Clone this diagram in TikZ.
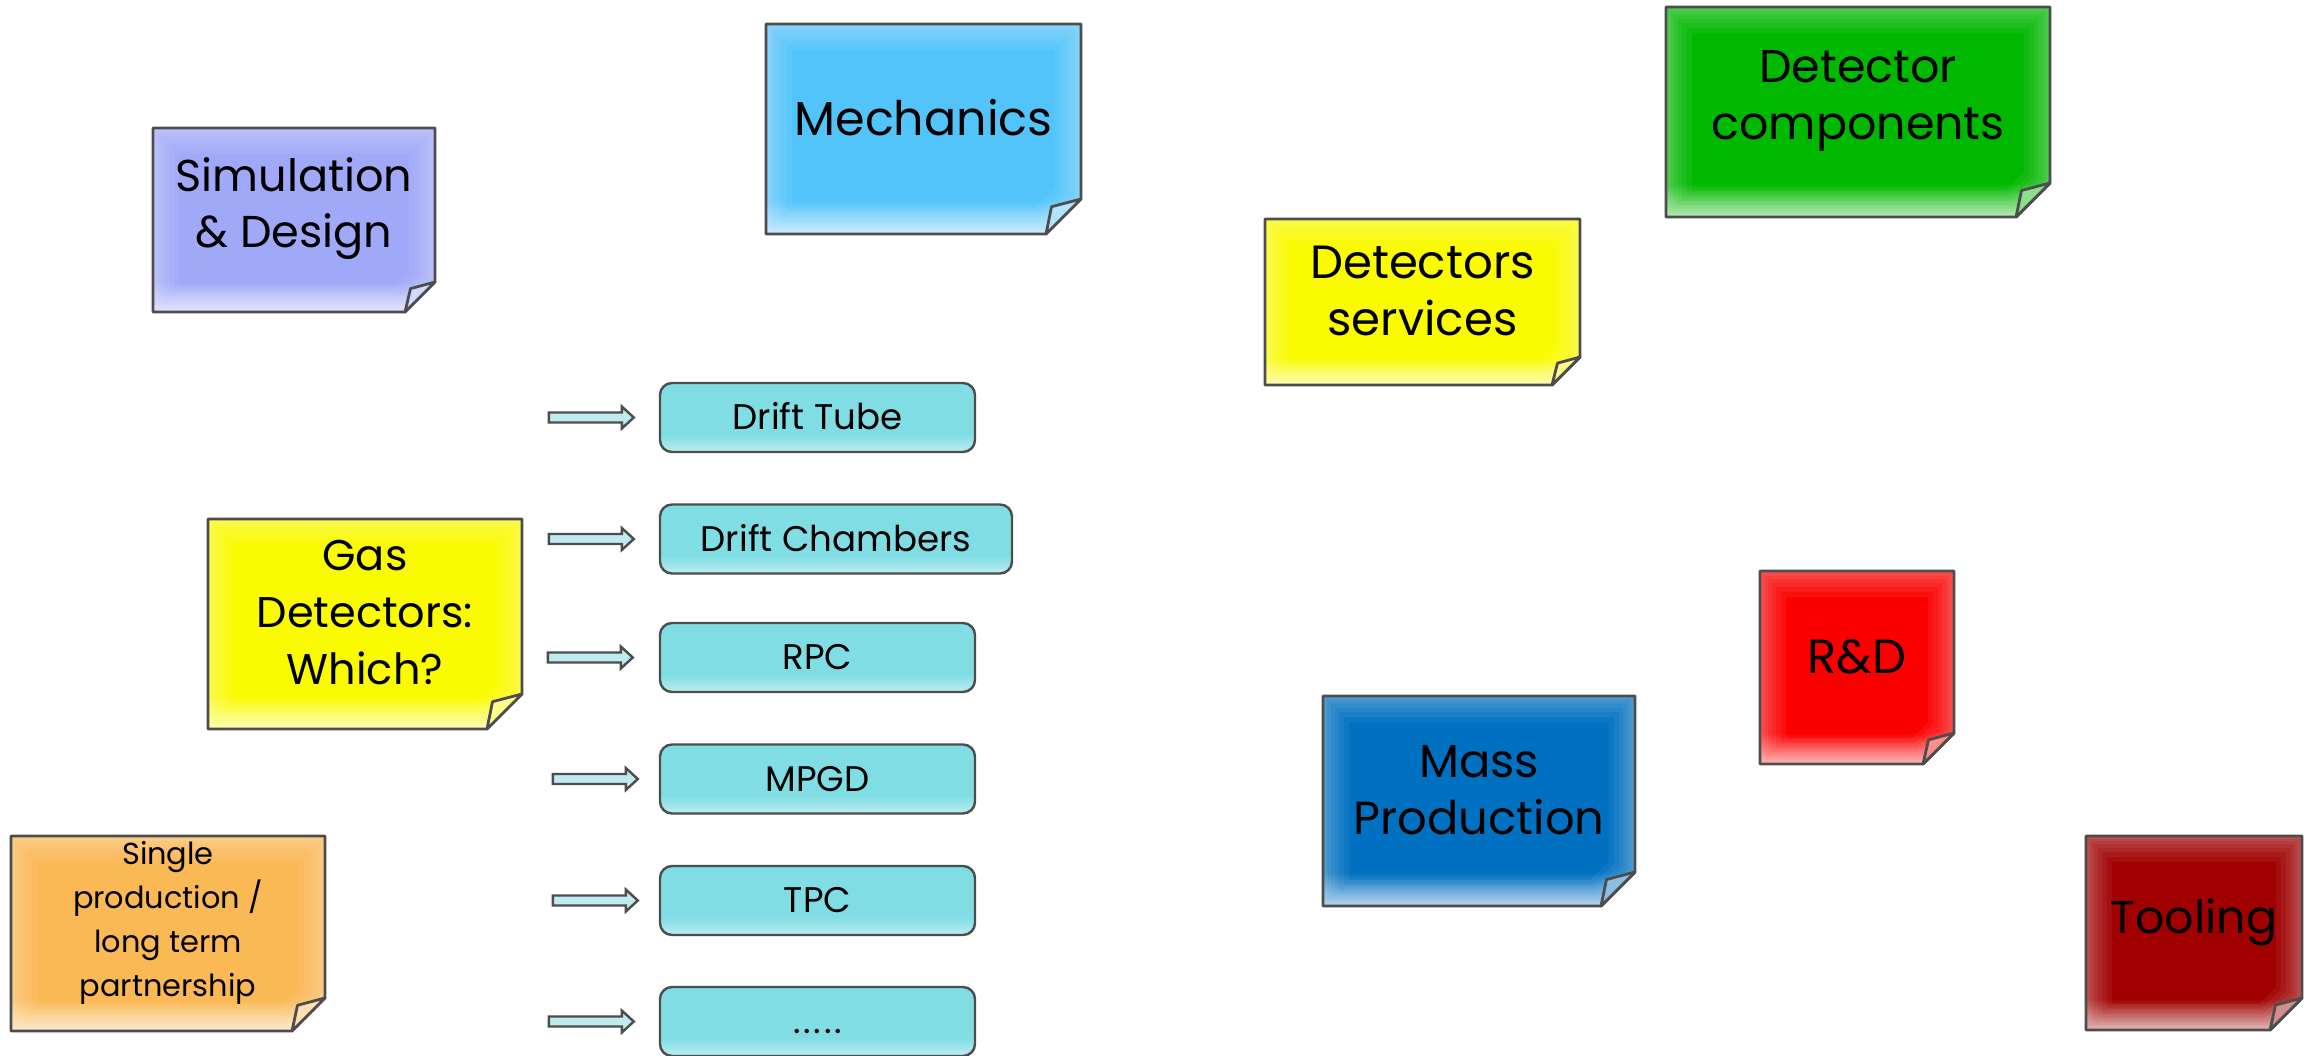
\documentclass[tikz,border=0pt]{standalone}
\usepackage{fontspec}
\setmainfont{Poppins}
\usetikzlibrary{calc}
\definecolor{lineg}{RGB}{77,77,77}
\definecolor{simc}{RGB}{160,168,248}
\definecolor{mechc}{RGB}{82,196,250}
\definecolor{compc}{RGB}{0,184,0}
\definecolor{yelc}{RGB}{250,250,0}
\definecolor{singc}{RGB}{250,185,85}
\definecolor{massc}{RGB}{0,112,192}
\definecolor{rdc}{RGB}{250,0,0}
\definecolor{toolc}{RGB}{160,0,0}
\definecolor{boxc}{RGB}{128,221,228}
\definecolor{boxl}{RGB}{190,236,240}
\definecolor{arrc}{RGB}{190,234,240}
\colorlet{notebase}{simc}
\colorlet{notelight}{simc!40!white}
\pgfdeclareverticalshading[notebase,notelight]{noteshade}{100bp}{color(0bp)=(notelight); color(25bp)=(notelight); color(33bp)=(notebase); color(100bp)=(notebase)}
\pgfdeclareverticalshading{boxshade}{100bp}{color(0bp)=(boxl); color(25bp)=(boxl); color(38bp)=(boxc); color(100bp)=(boxc)}
\tikzset{
  noteline/.style={draw=lineg, line width=1.4pt, line join=round},
  notetext/.style={align=center, inner sep=0pt, text=black},
  cbox/.style={draw=lineg, line width=1.2pt, rounded corners=6pt, shading=boxshade,
    minimum height=34.5pt, inner sep=0pt, text height=12.4pt, text depth=0pt,
    font=\fontsize{17.8}{21}\selectfont},
  arrowst/.style={draw=lineg, fill=arrc, line width=1.2pt, line join=miter},
  glowst/.style={draw=white, opacity=0.055}
}
% #1 name, #2 x1, #3 y1, #4 x2, #5 y2, #6 fold, #7 colour, #8 text, #9 font
\newcommand\stickynote[9]{%
  \colorlet{notebase}{#7}\colorlet{notelight}{#7!40!white}%
  \path[shading=noteshade] (#2,#3) -- (#4,#3) -- (#4,#5-#6) -- (#4-#6,#5) -- (#2,#5) -- cycle;
  \begin{scope}
    \clip (#2,#3) -- (#4,#3) -- (#4,#5-#6) -- (#4-#6,#5) -- (#2,#5) -- cycle;
    \foreach \gw in {26,21,16,12,8,5,2.5}{
      \draw[glowst, line width=\gw pt] (#2,#3) -- (#4,#3) -- (#4,#5-#6) -- (#4-#6,#5) -- (#2,#5) -- cycle;
    }
  \end{scope}
  \draw[noteline] (#2,#3) -- (#4,#3) -- (#4,#5-#6) -- (#4-#6,#5) -- (#2,#5) -- cycle;
  \filldraw[noteline, fill=#7!45!white] (#4-#6,#5) -- (#4-#6+5.5,#5-0.78*#6) -- (#4,#5-#6) -- cycle;
  \node[notetext, font=#9\selectfont] (#1) at ({(#2+#4)/2},{(#3+#5)/2-11}) {#8};
}
\newcommand\barrow[2]{%
  \path (#1.west) ++(-#2,0) coordinate (#1-tip);
  \draw[arrowst] (#1-tip) ++(-85,-5) -- ++(73,0) -- ++(0,-6) -- (#1-tip) -- ++(-12,11) -- ++(0,-6) -- ++(-73,0) -- cycle;
}
\begin{document}
\begin{tikzpicture}[x=0.5pt, y=-0.5pt]
\fill[white] (0,0) rectangle (2318,1055);
\useasboundingbox (0,0) rectangle (2318,1055);

\stickynote{sim}{153}{128}{435}{312}{30}{simc}{Simulation\\\& Design}{\fontsize{22.3}{28}}
\stickynote{mech}{766}{24}{1081}{234}{35}{mechc}{Mechanics}{\fontsize{23.8}{28.5}}
\stickynote{comp}{1666}{7}{2050}{217}{34}{compc}{Detector\\components}{\fontsize{23}{28.5}}
\stickynote{serv}{1265}{219}{1580}{385}{28}{yelc}{Detectors\\services}{\fontsize{23.3}{28.5}}
\stickynote{gas}{208}{519}{522}{729}{35}{yelc}{Gas\\Detectors:\\Which?}{\fontsize{21.5}{28.5}}
\stickynote{single}{11}{836}{325}{1031}{33}{singc}{Single\\production /\\long term\\partnership}{\fontsize{15.2}{22}}
\stickynote{mass}{1323}{696}{1635}{906}{34}{massc}{Mass\\Production}{\fontsize{23.2}{28.5}}
\stickynote{rd}{1760}{571}{1954}{764}{31}{rdc}{R\&D}{\fontsize{24}{28.5}}
\stickynote{tool}{2086}{836}{2302}{1030}{32}{toolc}{Tooling}{\fontsize{23}{28.5}}

\node[cbox, minimum width=157.5pt] (dt) at (817.5,417.5) {Drift Tube};
\node[cbox, minimum width=176pt] (dc) at (836,539) {Drift Chambers};
\node[cbox, minimum width=157.5pt] (rpc) at (817.5,657.5) {RPC};
\node[cbox, minimum width=157.5pt] (mpgd) at (817.5,779) {MPGD};
\node[cbox, minimum width=157.5pt] (tpc) at (817.5,900.5) {TPC};
\node[cbox, minimum width=157.5pt] (etc) at (817.5,1021.5) {.\kern1.4pt.\kern1.4pt.\kern1.4pt.\kern1.4pt.};

\barrow{dt}{25}
\barrow{dc}{25}
\barrow{rpc}{26}
\barrow{mpgd}{21}
\barrow{tpc}{21}
\barrow{etc}{25}
\end{tikzpicture}
\end{document}
